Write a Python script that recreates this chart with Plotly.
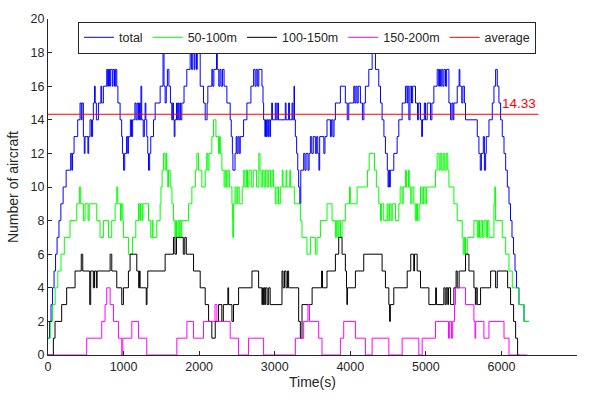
import plotly.graph_objects as go

# ---- data: (time s, count) change points of each stair series ----
total_steps = [
(0,1),(20,2),(40,3),(60,4),(80,5),(100,6),(120,7),(145,8),(170,9),(200,10),(240,11),(300,12),(315,11),(325,12),(345,13),(393,14),(424,15),(440,14),(450,15),(468,13),(480,12),(490,13),(528,12),(538,13),(556,14),(575,13),(590,14),(600,15),(615,16),(625,15),(640,14),(667,15),(700,16),(710,15),(733,16),(777,17),(790,16),(800,17),(815,16),(825,17),(850,16),(860,17),(880,16),(895,17),(910,16),(925,15),(954,14),(975,13),(985,12),(1000,11),(1015,12),(1040,13),(1055,12),(1064,13),(1090,14),(1105,13),(1120,14),(1150,15),(1165,14),(1180,15),(1197,14),(1210,15),(1220,14),(1230,16),(1240,14),(1260,13),(1275,14),(1285,15),(1295,14),(1307,13),(1320,12),(1330,11),(1345,12),(1360,13),(1396,14),(1418,15),(1484,16),(1522,18),(1535,16),(1550,15),(1565,16),(1580,17),(1600,16),(1620,15),(1638,14),(1650,15),(1660,14),(1670,13),(1680,14),(1700,15),(1710,14),(1720,15),(1730,14),(1745,15),(1755,14),(1771,15),(1800,16),(1837,17),(1881,18),(1900,17),(1915,18),(1935,17),(1945,18),(1965,17),(1975,18),(2014,16),(2058,15),(2080,14),(2105,15),(2115,16),(2168,17),(2180,16),(2195,17),(2230,18),(2240,17),(2260,16),(2275,17),(2290,16),(2310,17),(2330,16),(2367,15),(2411,14),(2425,13),(2440,12),(2447,11),(2475,12),(2490,13),(2500,12),(2515,13),(2530,12),(2544,13),(2588,14),(2632,15),(2685,16),(2721,17),(2740,16),(2755,17),(2775,16),(2790,17),(2831,16),(2845,15),(2853,14),(2870,13),(2878,14),(2890,13),(2898,14),(2910,13),(2920,14),(2935,13),(2945,14),(2960,15),(2970,14),(3008,15),(3020,14),(3040,15),(3050,14),(3140,15),(3150,14),(3184,15),(3195,14),(3229,15),(3240,14),(3255,16),(3262,14),(3273,13),(3290,12),(3305,11),(3317,10),(3332,9),(3345,11),(3383,12),(3400,11),(3415,12),(3440,11),(3455,12),(3472,13),(3490,12),(3510,13),(3538,12),(3555,13),(3570,12),(3585,11),(3595,13),(3650,12),(3665,13),(3692,14),(3737,13),(3750,14),(3770,13),(3785,14),(3803,15),(3869,16),(3935,15),(3960,14),(3980,15),(4046,16),(4060,15),(4075,16),(4090,15),(4105,16),(4134,15),(4160,14),(4180,15),(4200,16),(4245,17),(4289,18),(4333,17),(4377,16),(4400,15),(4421,14),(4445,13),(4465,12),(4490,11),(4500,10),(4510,11),(4520,10),(4530,11),(4576,12),(4620,13),(4642,14),(4686,15),(4730,16),(4750,15),(4760,16),(4775,14),(4790,16),(4810,15),(4825,16),(4863,15),(4890,14),(4905,15),(4929,14),(4945,13),(4955,14),(4980,15),(4995,14),(5018,15),(5062,14),(5080,15),(5106,16),(5150,17),(5170,16),(5180,17),(5195,16),(5210,17),(5225,16),(5240,17),(5260,16),(5275,17),(5305,15),(5327,14),(5345,15),(5360,14),(5371,15),(5415,16),(5440,17),(5450,16),(5475,15),(5490,16),(5510,15),(5525,14),(5680,13),(5702,12),(5720,11),(5735,12),(5760,13),(5775,11),(5791,12),(5800,13),(5835,14),(5879,15),(5901,16),(5923,17),(5945,16),(5967,15),(5989,14),(6011,13),(6034,12),(6056,11),(6078,10),(6100,9),(6120,8),(6140,7),(6160,6),(6180,5),(6200,4),(6232,3),(6299,2),(6365,2)]

band_50_100_steps = [
(0,1),(30,2),(60,3),(95,4),(130,5),(172,6),(216,7),(291,8),(380,9),(415,10),(433,9),(468,8),(490,9),(530,8),(545,9),(645,8),(689,7),(733,8),(800,7),(843,8),(888,9),(910,10),(923,9),(960,8),(970,9),(990,8),(998,7),(1064,6),(1117,7),(1162,8),(1197,9),(1215,8),(1225,9),(1245,8),(1255,9),(1330,8),(1360,7),(1380,8),(1390,7),(1440,8),(1484,9),(1495,10),(1510,11),(1528,12),(1550,11),(1565,12),(1572,11),(1585,10),(1595,11),(1617,10),(1640,9),(1660,8),(1680,7),(1690,8),(1700,7),(1720,8),(1735,7),(1745,8),(1760,7),(1770,8),(1860,9),(1904,10),(1950,11),(1970,12),(1992,11),(2036,10),(2080,11),(2100,12),(2115,11),(2130,12),(2168,13),(2190,14),(2222,13),(2257,12),(2270,13),(2280,12),(2301,11),(2330,10),(2345,11),(2360,10),(2380,11),(2400,10),(2434,9),(2440,8),(2445,7),(2456,9),(2475,10),(2490,9),(2510,10),(2530,9),(2570,10),(2590,11),(2605,10),(2625,11),(2640,10),(2660,11),(2690,10),(2716,11),(2760,10),(2790,12),(2805,11),(2820,10),(2840,11),(2860,10),(2880,11),(2900,10),(2920,11),(2945,10),(2965,11),(2985,10),(3008,9),(3030,10),(3050,9),(3074,10),(3100,11),(3110,10),(3150,11),(3160,10),(3200,11),(3210,10),(3260,9),(3339,8),(3361,7),(3427,6),(3472,7),(3538,6),(3560,7),(3604,8),(3692,9),(3759,8),(3803,7),(3820,8),(3835,7),(3850,8),(3870,7),(3891,8),(3935,9),(3990,10),(4000,9),(4090,10),(4227,11),(4250,12),(4320,11),(4345,10),(4377,9),(4400,8),(4415,9),(4443,8),(4487,9),(4500,8),(4520,9),(4540,8),(4555,9),(4598,8),(4642,9),(4660,10),(4686,9),(4700,10),(4730,11),(4745,10),(4770,11),(4780,10),(4800,9),(4815,10),(4841,9),(4860,8),(4875,9),(4890,8),(4910,9),(4929,10),(4950,9),(4970,10),(4990,9),(5010,10),(5128,11),(5150,12),(5175,11),(5190,12),(5210,11),(5230,12),(5250,11),(5270,12),(5290,11),(5305,10),(5371,9),(5415,8),(5481,7),(5495,6),(5510,7),(5525,6),(5548,7),(5636,8),(5680,7),(5695,8),(5710,7),(5730,8),(5750,7),(5770,8),(5800,7),(5815,8),(5835,7),(5901,9),(5912,10),(5923,8),(6011,7),(6056,6),(6100,5),(6144,4),(6232,3),(6299,2),(6365,2)]

band_100_150_steps = [
(0,0),(71,1),(93,2),(181,3),(247,4),(358,5),(440,6),(460,5),(552,3),(565,5),(600,4),(615,5),(640,4),(650,5),(822,6),(844,5),(910,4),(976,3),(998,4),(1064,5),(1086,6),(1175,5),(1200,4),(1210,5),(1219,4),(1300,3),(1310,4),(1320,5),(1550,6),(1660,7),(1680,6),(1700,7),(1790,6),(1810,7),(1830,6),(1926,5),(2014,4),(2080,3),(2125,2),(2168,1),(2213,2),(2257,3),(2300,2),(2320,3),(2380,4),(2390,3),(2434,2),(2455,3),(2522,4),(2699,5),(2787,4),(2831,3),(2840,4),(2850,3),(2860,4),(2870,3),(2880,4),(2900,3),(2920,4),(2940,3),(3096,5),(3110,4),(3130,5),(3150,4),(3170,5),(3184,4),(3317,2),(3339,1),(3361,3),(3495,4),(3620,5),(3632,4),(3692,5),(3803,6),(3847,7),(3891,6),(3935,5),(3950,4),(3955,3),(3962,4),(4068,5),(4178,6),(4421,5),(4465,4),(4510,3),(4520,2),(4530,3),(4576,4),(4753,5),(4800,6),(4840,5),(4850,6),(4885,5),(4929,4),(5040,3),(5130,4),(5140,3),(5238,4),(5255,3),(5270,4),(5290,3),(5300,4),(5327,3),(5371,4),(5400,5),(5415,4),(5440,5),(5459,5),(5525,6),(5570,5),(5636,4),(5655,3),(5665,4),(5680,3),(5724,4),(5857,5),(5923,4),(5945,5),(6082,4),(6121,3),(6161,2),(6188,1),(6214,0),(6240,0)]

band_150_200_steps = [
(0,0),(512,1),(711,2),(755,3),(777,4),(822,3),(866,2),(932,1),(976,0),(990,1),(1109,2),(1197,1),(1307,0),(1705,1),(1838,2),(1926,1),(2058,2),(2210,3),(2235,2),(2411,1),(2522,0),(2654,1),(2853,0),(3273,1),(3383,2),(3440,3),(3460,2),(3582,1),(3626,0),(3869,1),(3913,2),(4068,1),(4200,0),(4289,1),(4510,0),(4686,1),(4907,0),(4951,1),(5128,2),(5300,1),(5315,2),(5340,1),(5355,2),(5380,3),(5393,4),(5525,3),(5636,2),(5650,1),(5660,2),(5768,1),(5835,2),(6034,1),(6100,0),(6343,0)]

average_value = 14.33
average_span = [0, 6490]

series_names = ["total", "50-100m", "100-150m", "150-200m", "average"]
series_colors = ["#0000FF", "#00FF00", "#000000", "#FF00FF", "#FF0000"]

FONT = "Liberation Sans, Arial, Helvetica, sans-serif"
AX = "#262626"

fig = go.Figure()
for steps, name, color in zip(
        [total_steps, band_50_100_steps, band_100_150_steps, band_150_200_steps],
        series_names[:4], series_colors[:4]):
    t = [p[0] for p in steps]
    v = [p[1] for p in steps]
    fig.add_trace(go.Scatter(x=t, y=v, mode="lines", name=name,
                             line=dict(color=color, width=1, shape="hv")))

fig.add_trace(go.Scatter(x=average_span, y=[average_value, average_value],
                         mode="lines", name=series_names[4],
                         line=dict(color=series_colors[4], width=1)))

fig.add_annotation(x=average_span[1], y=average_value, text=f"{average_value:.2f}",
                   showarrow=False, xanchor="right", yanchor="bottom", yshift=1,
                   font=dict(family=FONT, size=13.5, color="#FF0000"))

fig.update_layout(
    width=590, height=400,
    margin=dict(l=48, r=13, t=15, b=43),
    paper_bgcolor="white", plot_bgcolor="white",
    font=dict(family=FONT, size=12, color=AX),
    showlegend=True,
    legend=dict(orientation="h", x=0.0567, y=0.992, xanchor="left", yanchor="top",
                bordercolor=AX, borderwidth=1, bgcolor="white",
                font=dict(family=FONT, size=12.5, color=AX)),
    xaxis=dict(range=[0, 7000], dtick=1000, tick0=0, showgrid=False, zeroline=False,
               showline=True, linecolor=AX, linewidth=1, ticks="inside", ticklen=4,
               tickcolor=AX, tickfont=dict(size=12.5, color=AX),
               title=dict(text="Time(s)", font=dict(size=14, color=AX), standoff=4)),
    yaxis=dict(range=[0, 20], dtick=2, tick0=0, showgrid=False, zeroline=False,
               showline=True, linecolor=AX, linewidth=1, ticks="inside", ticklen=4,
               tickcolor=AX, tickfont=dict(size=12.5, color=AX),
               title=dict(text="Number of aircraft", font=dict(size=14, color=AX), standoff=8)),
)

fig.write_html("out.html")
